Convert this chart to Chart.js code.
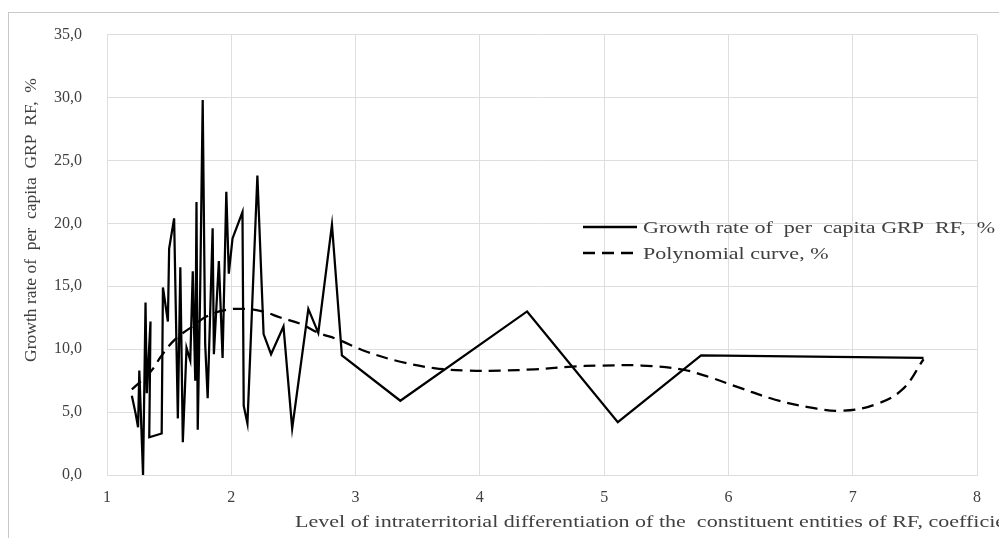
<!DOCTYPE html>
<html>
<head>
<meta charset="utf-8">
<script src="https://cdn.jsdelivr.net/npm/chart.js@4/dist/chart.umd.min.js"></script>
<style>
  body { margin: 0; background: #fff; }
  canvas { display: block; }
</style>
</head>
<body>
<canvas id="myChart" width="999" height="538"></canvas>
<script>
// Dados
const growthX = [1.20, 1.23, 1.25, 1.26, 1.29, 1.31, 1.32, 1.35, 1.34, 1.44, 1.45, 1.49, 1.50, 1.54, 1.57, 1.59, 1.61, 1.64, 1.67, 1.69,
  1.71, 1.72, 1.73, 1.75, 1.77, 1.79, 1.81, 1.85, 1.86, 1.90, 1.93, 1.96, 1.98, 2.01, 2.09, 2.10, 2.13, 2.21, 2.26, 2.32,
  2.42, 2.49, 2.62, 2.70, 2.81, 2.89, 3.36, 4.38, 5.11, 5.78, 7.57];
const growthY = [6.3, 4.9, 3.8, 8.3, 0.0, 13.7, 6.5, 12.2, 3.0, 3.3, 14.9, 12.2, 18.0, 20.4, 4.5, 16.5, 2.6, 10.1, 9.1, 16.2,
  7.5, 21.7, 3.6, 14.9, 29.8, 10.4, 6.1, 19.6, 9.6, 17.0, 9.3, 22.5, 16.0, 18.8, 20.9, 5.5, 4.1, 23.8, 11.2, 9.6,
  11.8, 3.7, 13.2, 11.3, 19.9, 9.5, 5.9, 13.0, 4.2, 9.5, 9.3];

const polyX = [1.20, 1.35, 1.44, 1.55, 1.70, 1.80, 1.95, 2.10, 2.25, 2.40, 2.56, 2.70, 2.85, 3.09, 3.36, 3.63, 3.90, 4.17,
  4.44, 4.71, 4.98, 5.30, 5.62, 5.84, 6.10, 6.37, 6.64, 6.91, 7.18, 7.40, 7.57];
const polyY = [6.8, 8.2, 9.5, 10.8, 11.9, 12.6, 13.1, 13.2, 13.0, 12.5, 12.0, 11.3, 10.8, 9.8, 9.0, 8.5, 8.3, 8.3,
  8.4, 8.6, 8.7, 8.7, 8.4, 7.8, 6.9, 6.0, 5.4, 5.1, 5.6, 6.8, 9.2];

const seriesNames = ['Growth rate of  per  capita GRP  RF,  %', 'Polynomial curve, %'];
const xTickLabels = ['1', '2', '3', '4', '5', '6', '7', '8'];
const yTickLabels = ['0,0', '5,0', '10,0', '15,0', '20,0', '25,0', '30,0', '35,0'];
const xTitle = 'Level of intraterritorial differentiation of the  constituent entities of RF, coefficient';
const yTitle = 'Growth rate of  per  capita  GRP  RF,  %';

const toPoints = (xs, ys) => xs.map((x, i) => ({ x: x, y: ys[i] }));

// texto horizontal um pouco esticado, como na imagem original
function wideText(c, txt, x, y, sx) {
  c.save();
  c.translate(x, y);
  c.scale(sx, 1);
  c.fillText(txt, 0, 0);
  c.restore();
}

// Moldura, legenda e títulos dos eixos
const extras = {
  id: 'extras',
  beforeDraw(chart) {
    const c = chart.ctx;
    c.save();
    c.fillStyle = '#fff';
    c.fillRect(0, 0, chart.width, chart.height);
    c.strokeStyle = '#c9c9c9';
    c.lineWidth = 1;
    c.strokeRect(8.5, 12.5, 1100, 600);
    c.restore();
  },
  afterDraw(chart) {
    const c = chart.ctx;
    c.save();
    c.fillStyle = '#404040';
    c.font = '17.5px "Liberation Serif"';
    c.textBaseline = 'middle';
    c.textAlign = 'left';

    // legenda
    chart.data.datasets.forEach((ds, i) => {
      const y = 227 + i * 26;
      c.strokeStyle = '#000';
      c.lineWidth = 2.5;
      c.setLineDash(ds.borderDash || []);
      c.beginPath();
      c.moveTo(583, y);
      c.lineTo(637, y);
      c.stroke();
      c.setLineDash([]);
      wideText(c, ds.label, 643, y + 1, 1.26);
    });

    // título eixo x
    wideText(c, xTitle, 295, 522, 1.26);

    // título eixo y
    c.translate(31, 220);
    c.rotate(-Math.PI / 2);
    c.textAlign = 'center';
    c.fillText(yTitle, 0, 0);
    c.restore();
  }
};

const ctx = document.getElementById('myChart').getContext('2d');
const chart = new Chart(ctx, {
  type: 'scatter',
  data: {
    datasets: [
      {
        label: seriesNames[0],
        data: toPoints(growthX, growthY),
        showLine: true,
        borderColor: '#000',
        borderWidth: 2.25,
        pointRadius: 0,
        tension: 0,
        order: 1
      },
      {
        label: seriesNames[1],
        data: toPoints(polyX, polyY),
        showLine: true,
        borderColor: '#000',
        borderWidth: 2.25,
        borderDash: [12, 7],
        pointRadius: 0,
        tension: 0.4,
        order: 0
      }
    ]
  },
  options: {
    responsive: false,
    animation: false,
    layout: { padding: { top: 32, right: 22, left: 0, bottom: 0 } },
    plugins: {
      legend: { display: false },
      tooltip: { enabled: false }
    },
    scales: {
      x: {
        type: 'linear',
        min: 1,
        max: 8,
        afterFit: s => { s.height = 63; },
        grid: { color: '#dedede', drawTicks: false },
        border: { color: '#dedede' },
        ticks: {
          stepSize: 1,
          padding: 13,
          color: '#404040',
          font: { family: 'Liberation Serif', size: 16 },
          callback: (v) => xTickLabels[v - 1]
        }
      },
      y: {
        min: 0,
        max: 35,
        afterFit: s => { s.width = 107; },
        grid: { color: '#dedede', drawTicks: false },
        border: { color: '#dedede' },
        ticks: {
          stepSize: 5,
          padding: 25,
          color: '#404040',
          font: { family: 'Liberation Serif', size: 16 },
          callback: (v) => yTickLabels[v / 5]
        }
      }
    }
  },
  plugins: [extras]
});
</script>
</body>
</html>
